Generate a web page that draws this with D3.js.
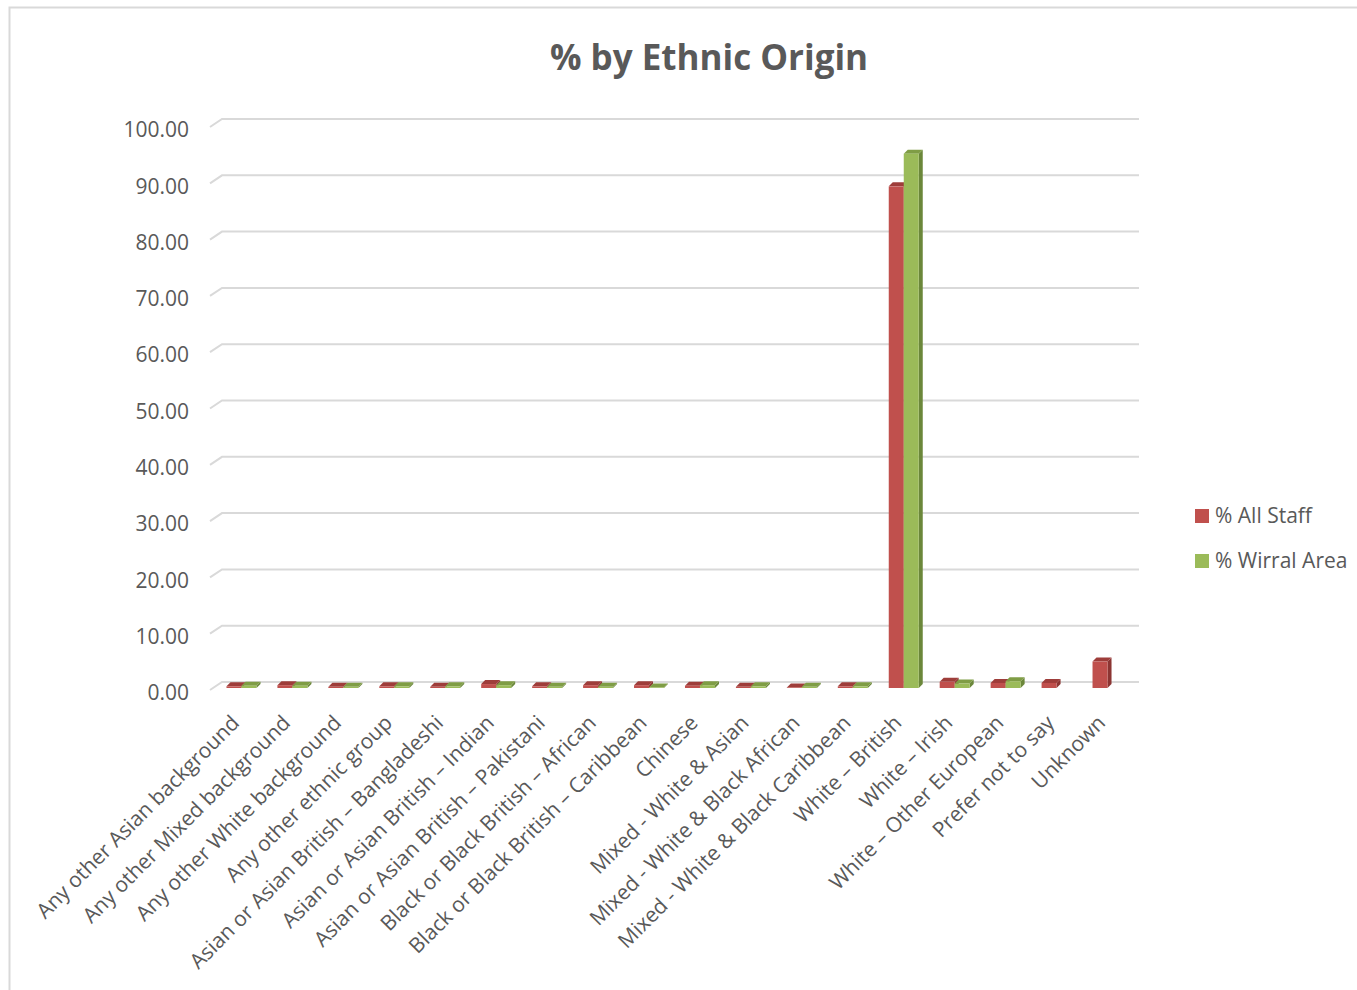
<!DOCTYPE html>
<html>
<head>
<meta charset="utf-8">
<script src="https://cdn.jsdelivr.net/npm/d3@7/dist/d3.min.js"></script>
<style>
  body { margin: 0; background: #fff; }
  svg { display: block; }
  text { font-family: "Open Sans", sans-serif; fill: #595959; }
</style>
</head>
<body>
<div id="chart"></div>
<script>
// data
const categories = [
  "Any other Asian background",
  "Any other Mixed background",
  "Any other White background",
  "Any other ethnic group",
  "Asian or Asian British \u2013 Bangladeshi",
  "Asian or Asian British \u2013 Indian",
  "Asian or Asian British \u2013 Pakistani",
  "Black or Black British \u2013 African",
  "Black or Black British \u2013 Caribbean",
  "Chinese",
  "Mixed - White & Asian",
  "Mixed - White & Black African",
  "Mixed - White & Black Caribbean",
  "White \u2013 British",
  "White \u2013 Irish",
  "White \u2013 Other European",
  "Prefer not to say",
  "Unknown"
];
const series = ["% All Staff", "% Wirral Area"];
const allStaff   = [0.3, 0.5, 0.2, 0.3, 0.2, 0.7, 0.3, 0.5, 0.5, 0.4, 0.2, 0.1, 0.3, 89.1, 1.1, 0.9, 0.9, 4.7];
const wirralArea = [0.4, 0.4, 0.2, 0.3, 0.3, 0.5, 0.2, 0.2, 0.1, 0.5, 0.3, 0.2, 0.3, 94.9, 0.8, 1.2, 0, 0];
const yTicks = [0, 10, 20, 30, 40, 50, 60, 70, 80, 90, 100];

const colors = {
  "% All Staff":   { front: "#C0504D", top: "#9E3D3A", side: "#8C3533" },
  "% Wirral Area": { front: "#9BBB59", top: "#7F9D45", side: "#6B873A" }
};

const config = {
  width: 1357,
  height: 990,
  wall: { left: 222, right: 1139, top: 119, bottom: 682 },
  floorDepth: { dx: -12, dy: 8 },   // front edge relative to back wall
  barShift: { dx: -6, dy: 6 },      // bar front face relative to back wall
  barDepth: 4,
  barWidth: 15,
  labelShift: -12
};

const svg = d3.select("#chart")
  .append("svg")
  .attr("width", config.width)
  .attr("height", config.height);

// outer chart border
svg.append("rect")
  .attr("x", 9.5)
  .attr("y", 7.5)
  .attr("width", 1400)
  .attr("height", 1100)
  .attr("fill", "none")
  .attr("stroke", "#d9d9d9")
  .attr("stroke-width", 2);

// Title
svg.append("text")
  .attr("x", 709)
  .attr("y", 70)
  .attr("text-anchor", "middle")
  .style("font-size", "35px")
  .style("font-weight", "bold")
  .text("% by Ethnic Origin");

// scales
const yScale = d3.scaleLinear()
  .domain([0, 100])
  .range([config.wall.bottom, config.wall.top]);

const xScale = d3.scaleBand()
  .domain(categories)
  .range([config.wall.left, config.wall.right]);

const bw = xScale.bandwidth();
const xSub = d3.scaleBand()
  .domain(series)
  .range([bw / 2 - config.barWidth, bw / 2 + config.barWidth]);

// gridlines (back wall + slanted side)
const fd = config.floorDepth;
svg.append("g")
  .attr("class", "grid")
  .selectAll("path")
  .data(yTicks)
  .enter().append("path")
  .attr("d", d => {
    const y = yScale(d);
    return `M${config.wall.left + fd.dx},${y + fd.dy}L${config.wall.left},${y}L${config.wall.right},${y}`;
  })
  .attr("fill", "none")
  .attr("stroke", "#d9d9d9")
  .attr("stroke-width", 2);

// Y axis labels
const yAxis = d3.axisLeft(yScale)
  .tickValues(yTicks)
  .tickFormat(d3.format(".2f"))
  .tickSize(0)
  .tickPadding(21);

svg.append("g")
  .attr("class", "y-axis")
  .attr("transform", `translate(${config.wall.left + fd.dx},${fd.dy + 3})`)
  .call(yAxis)
  .call(g => g.select(".domain").remove())
  .selectAll("text")
  .style("font-size", "21px")
  .style("font-family", "'Open Sans', sans-serif")
  .attr("fill", "#595959");

// X axis labels (rotated, along the front of the floor)
const xAxis = d3.axisBottom(xScale).tickSize(0);
svg.append("g")
  .attr("class", "x-axis")
  .attr("transform", `translate(${config.labelShift},719)`)
  .call(xAxis)
  .call(g => g.select(".domain").remove())
  .selectAll("text")
  .attr("x", 0)
  .attr("y", 0)
  .attr("dy", "0.35em")
  .attr("transform", "rotate(-45)")
  .style("text-anchor", "end")
  .style("font-size", "21px")
  .style("font-family", "'Open Sans', sans-serif")
  .attr("fill", "#595959");

// Bars (3D columns)
const barData = [];
categories.forEach((c, i) => {
  barData.push({ cat: c, s: series[0], v: allStaff[i] });
  barData.push({ cat: c, s: series[1], v: wirralArea[i] });
});

const bs = config.barShift;
const dpt = config.barDepth;
const w = xSub.bandwidth();

const bars = svg.append("g")
  .attr("class", "bars")
  .selectAll("g.bar")
  .data(barData.filter(d => d.v > 0))
  .enter().append("g")
  .attr("class", "bar")
  .attr("transform", d => `translate(${xScale(d.cat) + xSub(d.s) + bs.dx},${bs.dy})`);

bars.append("path")
  .attr("d", d => {
    const y = yScale(d.v), y0 = yScale(0);
    return `M${w},${y}L${w + dpt},${y - dpt}L${w + dpt},${y0 - dpt}L${w},${y0}Z`;
  })
  .attr("fill", d => colors[d.s].side);

bars.append("path")
  .attr("d", d => {
    const y = yScale(d.v);
    return `M0,${y}L${dpt},${y - dpt}L${w + dpt},${y - dpt}L${w},${y}Z`;
  })
  .attr("fill", d => colors[d.s].top);

bars.append("rect")
  .attr("x", 0)
  .attr("y", d => yScale(d.v))
  .attr("width", w)
  .attr("height", d => yScale(0) - yScale(d.v))
  .attr("fill", d => colors[d.s].front);

// Legend
const legend = svg.append("g")
  .attr("class", "legend")
  .attr("transform", "translate(1195,509)");

const items = legend.selectAll("g")
  .data(series)
  .enter().append("g")
  .attr("transform", (d, i) => `translate(0,${i * 45})`);

items.append("rect")
  .attr("width", 14)
  .attr("height", 14)
  .attr("fill", d => colors[d].front);

items.append("text")
  .attr("x", 20)
  .attr("y", 14)
  .style("font-size", "21px")
  .text(d => d);
</script>
</body>
</html>
